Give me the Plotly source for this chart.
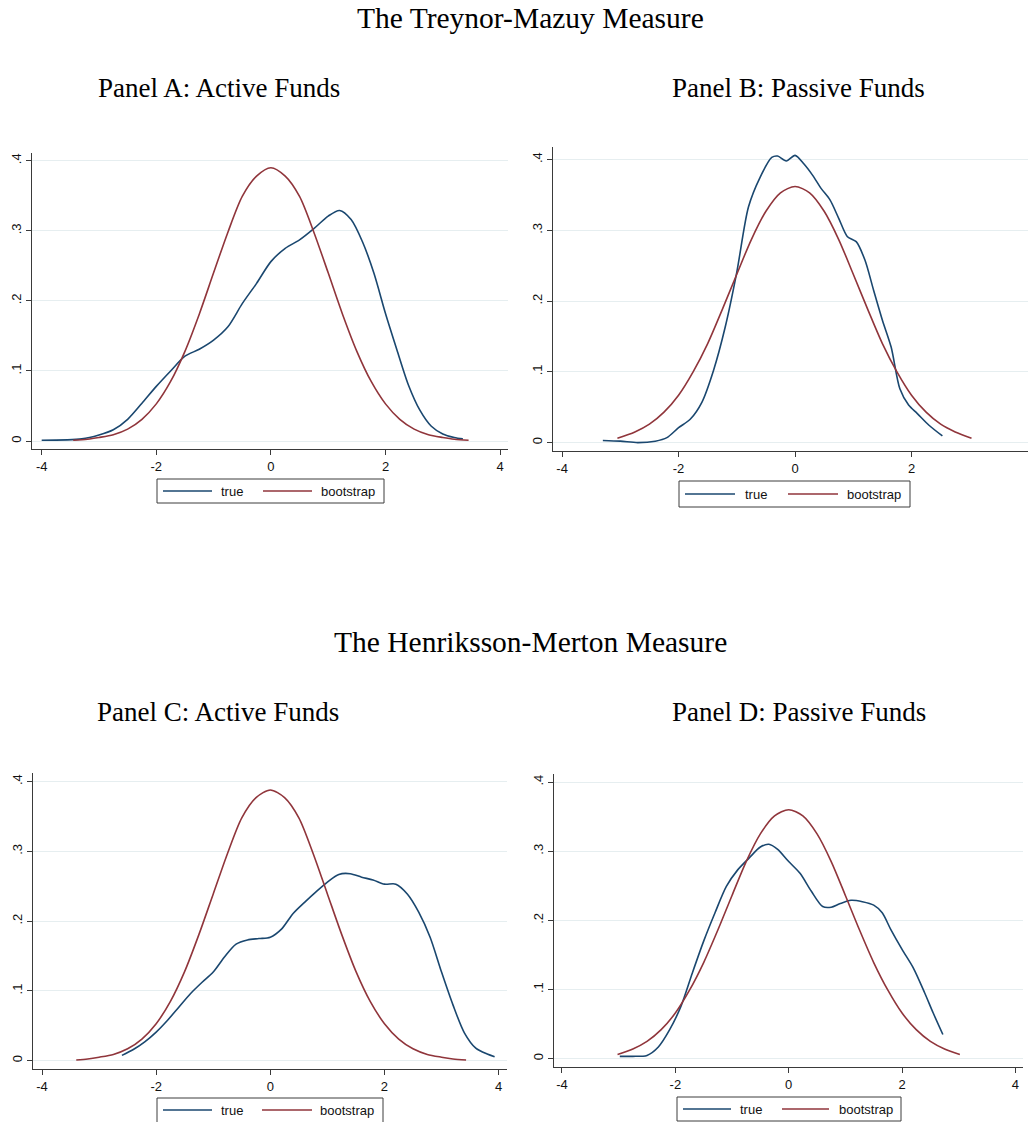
import plotly.graph_objects as go

# ---------------- data ----------------
# Panel A: Treynor-Mazuy, active funds
a_true_x = [-4.0, -3.3, -3.0, -2.75, -2.5, -2.25, -2.0, -1.75, -1.5, -1.25, -1.0, -0.75, -0.5, -0.25,
            0.0, 0.25, 0.5, 0.75, 1.0, 1.2, 1.4, 1.6, 1.8, 2.0, 2.2, 2.4, 2.6, 2.8, 3.0, 3.2, 3.35]
a_true_y = [0.001, 0.003, 0.0086, 0.016, 0.031, 0.054, 0.078, 0.100, 0.121, 0.131, 0.144, 0.163, 0.196, 0.225,
            0.256, 0.275, 0.287, 0.303, 0.321, 0.329, 0.316, 0.284, 0.239, 0.182, 0.130, 0.080, 0.044, 0.021,
            0.010, 0.005, 0.003]
a_boot_x = [-3.45, -3.2, -3.0, -2.75, -2.5, -2.25, -2.0, -1.75, -1.5, -1.25, -1.0, -0.75, -0.5, -0.25,
            0.0, 0.25, 0.5, 0.75, 1.0, 1.25, 1.5, 1.75, 2.0, 2.25, 2.5, 2.75, 3.0, 3.2, 3.45]
a_boot_y = [0.001, 0.0025, 0.005, 0.009, 0.017, 0.031, 0.053, 0.085, 0.128, 0.181, 0.240, 0.298, 0.349, 0.378,
            0.390, 0.378, 0.349, 0.298, 0.240, 0.181, 0.128, 0.085, 0.053, 0.031, 0.017, 0.009, 0.005, 0.0025,
            0.001]

# Panel B: Treynor-Mazuy, passive funds
b_true_x = [-3.3, -3.0, -2.7, -2.4, -2.2, -2.0, -1.8, -1.6, -1.4, -1.2, -1.0, -0.8, -0.6, -0.4, -0.3,
            -0.15, 0.0, 0.15, 0.3, 0.45, 0.6, 0.75, 0.9, 1.05, 1.2, 1.35, 1.5, 1.65, 1.8, 1.95, 2.1, 2.3, 2.53]
b_true_y = [0.003, 0.002, 0.000, 0.002, 0.007, 0.021, 0.033, 0.057, 0.102, 0.163, 0.241, 0.333, 0.375, 0.403,
            0.405, 0.398, 0.406, 0.394, 0.378, 0.359, 0.343, 0.317, 0.291, 0.284, 0.258, 0.215, 0.173, 0.135,
            0.076, 0.053, 0.041, 0.0245, 0.0094]
b_boot_x = [-3.05, -2.75, -2.5, -2.25, -2.0, -1.75, -1.5, -1.25, -1.0, -0.75, -0.5, -0.25, 0.0,
            0.25, 0.5, 0.75, 1.0, 1.25, 1.5, 1.75, 2.0, 2.25, 2.5, 2.75, 3.03]
b_boot_y = [0.006, 0.015, 0.026, 0.043, 0.067, 0.100, 0.140, 0.188, 0.238, 0.287, 0.327, 0.353, 0.362,
            0.353, 0.327, 0.287, 0.238, 0.188, 0.140, 0.100, 0.067, 0.043, 0.026, 0.015, 0.006]

# Panel C: Henriksson-Merton, active funds
c_true_x = [-2.6, -2.4, -2.2, -2.0, -1.8, -1.6, -1.4, -1.2, -1.0, -0.8, -0.6, -0.4, -0.2, 0.0, 0.2, 0.4,
            0.6, 0.8, 1.0, 1.2, 1.4, 1.6, 1.8, 2.0, 2.2, 2.4, 2.6, 2.8, 3.0, 3.2, 3.4, 3.6, 3.8, 3.93]
c_true_y = [0.0076, 0.016, 0.027, 0.041, 0.058, 0.077, 0.096, 0.112, 0.127, 0.149, 0.167, 0.173, 0.175,
            0.177, 0.189, 0.211, 0.227, 0.242, 0.256, 0.267, 0.268, 0.263, 0.259, 0.253, 0.253, 0.239, 0.213,
            0.177, 0.127, 0.080, 0.040, 0.018, 0.0095, 0.0057]
c_boot_x = [-3.4, -3.2, -3.0, -2.75, -2.5, -2.25, -2.0, -1.75, -1.5, -1.25, -1.0, -0.75, -0.5, -0.25,
            0.0, 0.25, 0.5, 0.75, 1.0, 1.25, 1.5, 1.75, 2.0, 2.25, 2.5, 2.75, 3.0, 3.2, 3.43]
c_boot_y = [0.001, 0.0025, 0.005, 0.009, 0.017, 0.031, 0.053, 0.085, 0.128, 0.181, 0.239, 0.297, 0.348, 0.377,
            0.388, 0.377, 0.348, 0.297, 0.239, 0.181, 0.128, 0.085, 0.053, 0.031, 0.017, 0.009, 0.005, 0.0025,
            0.001]

# Panel D: Henriksson-Merton, passive funds
d_true_x = [-2.98, -2.75, -2.5, -2.3, -2.1, -1.9, -1.7, -1.5, -1.3, -1.1, -0.9, -0.7, -0.5, -0.35, -0.2,
            0.0, 0.2, 0.4, 0.6, 0.75, 0.9, 1.1, 1.3, 1.5, 1.65, 1.8, 2.0, 2.2, 2.4, 2.55, 2.72]
d_true_y = [0.0034, 0.0034, 0.0048, 0.017, 0.042, 0.076, 0.124, 0.170, 0.211, 0.249, 0.273, 0.290, 0.306,
            0.310, 0.303, 0.285, 0.268, 0.242, 0.220, 0.219, 0.224, 0.229, 0.227, 0.222, 0.211, 0.187, 0.158,
            0.131, 0.095, 0.066, 0.035]
d_boot_x = [-3.02, -2.75, -2.5, -2.25, -2.0, -1.75, -1.5, -1.25, -1.0, -0.75, -0.5, -0.25, 0.0,
            0.25, 0.5, 0.75, 1.0, 1.25, 1.5, 1.75, 2.0, 2.25, 2.5, 2.75, 3.02]
d_boot_y = [0.006, 0.014, 0.025, 0.042, 0.066, 0.099, 0.139, 0.186, 0.236, 0.285, 0.325, 0.351, 0.360,
            0.351, 0.325, 0.285, 0.236, 0.186, 0.139, 0.099, 0.066, 0.042, 0.025, 0.014, 0.006]

series_names = ["true", "bootstrap"]
x_tickvals = [-4, -2, 0, 2, 4]
x_ticktext = ["-4", "-2", "0", "2", "4"]
y_tickvals = [0, 0.1, 0.2, 0.3, 0.4]
y_ticktext = ["0", ".1", ".2", ".3", ".4"]

section_titles = ["The Treynor-Mazuy Measure", "The Henriksson-Merton Measure"]
panel_titles = ["Panel A: Active Funds", "Panel B: Passive Funds",
                "Panel C: Active Funds", "Panel D: Passive Funds"]

# ---------------- styling / layout ----------------
W, H = 1028, 1122
NAVY = "#1a476f"
MAROON = "#90353b"
GRID = "#e6eef0"
AXIS = "#3a3a3a"
SANS = "Arial, Liberation Sans, sans-serif"
SERIF = "Times New Roman, Liberation Serif, serif"
COLORS = [NAVY, MAROON]


def px_x(p):
    return p / W


def px_y(p):
    return 1 - p / H


panels = [
    # (true x, true y, boot x, boot y, x-domain px, y-domain px (top,bottom), x range, y range,
    #  legend box px (left, top, right, bottom), legend line/text px (l1a, l1b, t1, l2a, l2b, t2, ymid))
    (a_true_x, a_true_y, a_boot_x, a_boot_y, (32, 508), (153, 449), (-4.169, 4.138), (-0.0114, 0.411),
     (157, 479, 384, 503), (163, 212, 219, 263, 312, 319, 491)),
    (b_true_x, b_true_y, b_boot_x, b_boot_y, (553, 1028), (147, 451), (-4.156, 4.0), (-0.0119, 0.4178),
     (679, 481, 910, 507), (685, 735, 743, 788, 838, 845, 494)),
    (c_true_x, c_true_y, c_boot_x, c_boot_y, (33, 507), (773, 1069), (-4.158, 4.147), (-0.0119, 0.4123),
     (157, 1098, 383, 1130), (163, 212, 219, 262, 312, 318, 1110)),
    (d_true_x, d_true_y, d_boot_x, d_boot_y, (554, 1023), (774, 1067), (-4.141, 4.134), (-0.012, 0.4116),
     (677, 1097, 901, 1121), (683, 731, 738, 782, 829, 837, 1109)),
]

fig = go.Figure()
layout = {}
shapes = []
annotations = []
for i, (tx, ty, bx, by, xd, yd, xr, yr, box, leg) in enumerate(panels):
    k = i + 1
    xa = "x" if k == 1 else f"x{k}"
    ya = "y" if k == 1 else f"y{k}"
    for xs, ys, nm, col in ((tx, ty, series_names[0], NAVY), (bx, by, series_names[1], MAROON)):
        fig.add_trace(go.Scatter(
            x=xs, y=ys, mode="lines", name=nm, xaxis=xa, yaxis=ya, showlegend=False,
            line=dict(color=col, width=1.6, shape="spline", smoothing=0.8),
            hoverinfo="skip",
        ))
    layout["xaxis" if k == 1 else f"xaxis{k}"] = dict(
        domain=[px_x(xd[0]), px_x(xd[1])], range=list(xr), anchor=ya,
        tickvals=x_tickvals, ticktext=x_ticktext, ticks="outside", ticklen=5, tickwidth=1,
        tickcolor=AXIS, showline=True, linecolor=AXIS, linewidth=1.3, showgrid=False,
        zeroline=False, tickfont=dict(family=SANS, size=13, color="#111"), fixedrange=True,
        automargin=False,
    )
    layout["yaxis" if k == 1 else f"yaxis{k}"] = dict(
        domain=[px_y(yd[1]), px_y(yd[0])], range=list(yr), anchor=xa,
        tickvals=y_tickvals, ticktext=y_ticktext, ticks="outside", ticklen=5, tickwidth=1,
        tickcolor=AXIS, showline=True, linecolor=AXIS, linewidth=1.3, showgrid=True,
        gridcolor=GRID, gridwidth=1.2, zeroline=False, tickangle=-90,
        tickfont=dict(family=SANS, size=13, color="#111"), fixedrange=True, automargin=False,
    )
    # legend box drawn with shapes/annotations (Stata-style key)
    l, t, r, b = box
    shapes.append(dict(type="rect", xref="paper", yref="paper",
                       x0=px_x(l), x1=px_x(r), y0=px_y(b), y1=px_y(t),
                       line=dict(color="#3c3c3c", width=1), fillcolor="white", layer="above"))
    l1a, l1b, t1, l2a, l2b, t2, ym = leg
    for (xa0, xa1, tx0), nm, col in (((l1a, l1b, t1), series_names[0], NAVY),
                                     ((l2a, l2b, t2), series_names[1], MAROON)):
        shapes.append(dict(type="line", xref="paper", yref="paper",
                           x0=px_x(xa0), x1=px_x(xa1), y0=px_y(ym), y1=px_y(ym),
                           line=dict(color=col, width=1.6), layer="above"))
        annotations.append(dict(text=nm, x=px_x(tx0), y=px_y(ym), xref="paper", yref="paper",
                                xanchor="left", yanchor="middle", showarrow=False,
                                font=dict(family=SANS, size=13, color="#111")))

for txt, cx, cy in ((section_titles[0], 530, 18), (section_titles[1], 530, 642)):
    annotations.append(dict(text=txt, x=px_x(cx), y=px_y(cy), xref="paper", yref="paper",
                            xanchor="center", yanchor="middle", showarrow=False,
                            font=dict(family=SERIF, size=29.5, color="black")))
for txt, cx, cy in ((panel_titles[0], 219, 88), (panel_titles[1], 798, 88),
                    (panel_titles[2], 218, 712), (panel_titles[3], 799, 712)):
    annotations.append(dict(text=txt, x=px_x(cx), y=px_y(cy), xref="paper", yref="paper",
                            xanchor="center", yanchor="middle", showarrow=False,
                            font=dict(family=SERIF, size=27, color="black")))

fig.update_layout(
    width=W, height=H, margin=dict(l=0, r=0, t=0, b=0, pad=0, autoexpand=False),
    paper_bgcolor="white", plot_bgcolor="white",
    annotations=annotations, shapes=shapes, showlegend=False,
    **layout,
)

fig.write_html("out.html", config={"displayModeBar": False})
